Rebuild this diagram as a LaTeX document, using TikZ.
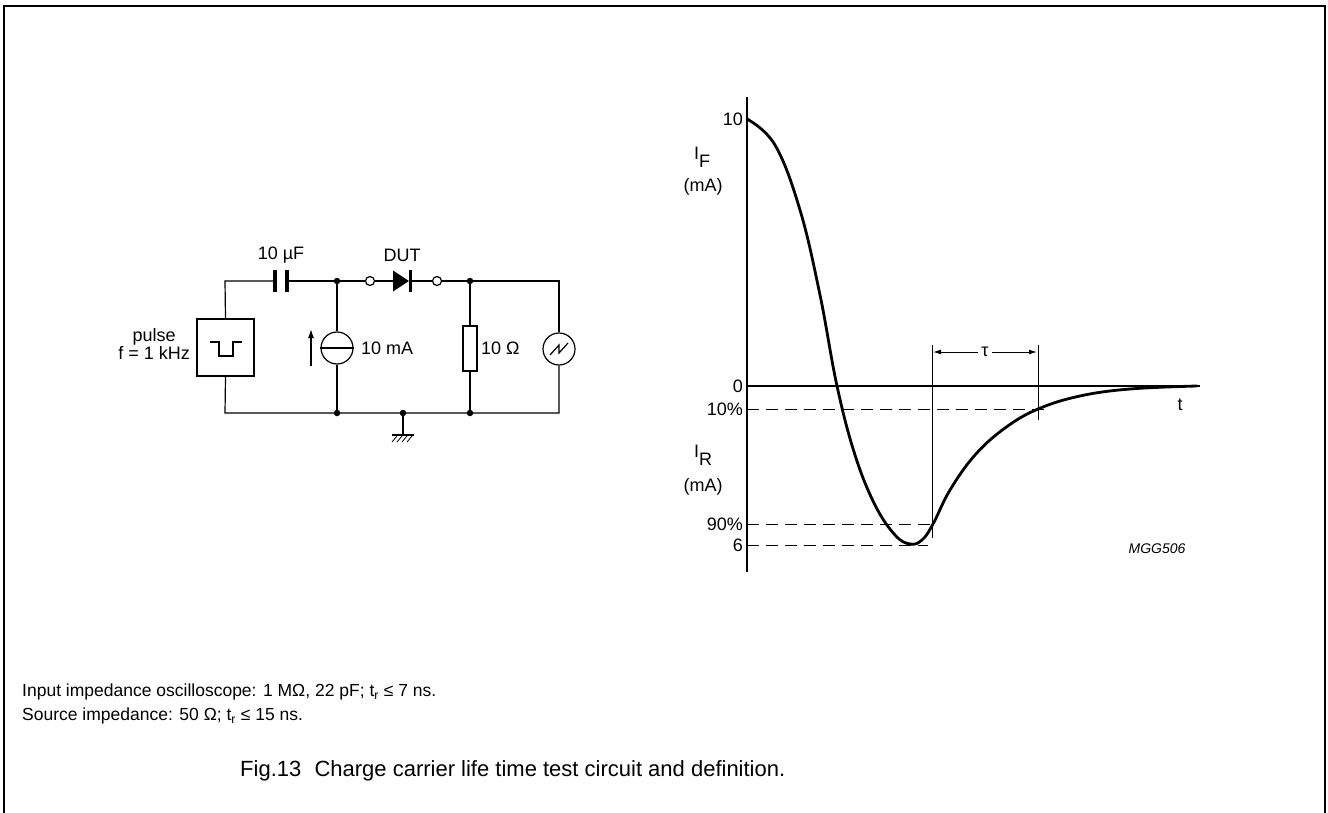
\documentclass[tikz,border=0pt]{standalone}
\usepackage{fontspec}
\setmainfont{Liberation Sans}
\usetikzlibrary{arrows.meta}

\begin{document}
\begin{tikzpicture}[x=1pt,y=-1pt,
wire/.style={line width=1.2pt},
dot/.style={circle, fill=black, inner sep=0pt, minimum size=6.5pt},
terminal/.style={circle, draw=black, fill=white, line width=1.2pt, inner sep=0pt, minimum size=9pt},
roundsym/.style={circle, draw=black, line width=1.2pt, inner sep=0pt, minimum size=32pt},
lbl/.style={font=\fontsize{18}{21}\selectfont, inner sep=0pt},
glbl/.style={font=\fontsize{18}{21}\selectfont, inner sep=0pt},
note/.style={font=\fontsize{17.5}{20}\selectfont, inner sep=0pt, anchor=west},
dashline/.style={line width=1pt, dash pattern=on 12pt off 7pt},
]
\useasboundingbox (0,0) rectangle (1328,813);
% frame
\draw[line width=2pt] (4,813) -- (4,6) -- (1325,6) -- (1325,813);

% test circuit
\coordinate (tl) at (225,281);
\coordinate (bl) at (225,413);
\coordinate (tr) at (559,281);
\coordinate (br) at (559,413);
\coordinate (capA) at (275,281);
\coordinate (capB) at (287,281);
\coordinate (anode) at (393,281);
\coordinate (cathode) at (411,281);
\coordinate (gndbar) at (403,435);
\node[rectangle, draw, line width=2.2pt, minimum width=57pt, minimum height=57pt] (pulse) at (225.5,347.5) {};
\node[dot] (ntop1) at (337,281) {};
\node[dot] (ntop2) at (470,281) {};
\node[dot] (nbot1) at (337,413) {};
\node[dot] (ngnd) at (403,413) {};
\node[dot] (nbot2) at (470,413) {};
\node[terminal] (term1) at (370,281) {};
\node[terminal] (term2) at (437,281) {};
\node[roundsym] (isrc) at (337,348) {};
\node[roundsym] (scope) at (559,349) {};
\node[rectangle, draw, line width=1.2pt, minimum width=14pt, minimum height=45pt, inner sep=0pt] (rload) at (470,348.5) {};

\draw[wire] (pulse.north) -- (tl) -- (capA);
\draw[wire] (capB) -- (term1.west);
\draw[wire] (term1.east) -- (anode);
\draw[wire] (cathode) -- (term2.west);
\draw[wire] (term2.east) -- (tr) -- (scope.north);
\draw[wire] (scope.south) -- (br) -- (bl) -- (pulse.south);
\draw[wire] (ntop1) -- (isrc.north);
\draw[wire] (isrc.south) -- (nbot1);
\draw[wire] (ntop2) -- (rload.north);
\draw[wire] (rload.south) -- (nbot2);
\draw[wire] (ngnd) -- (gndbar);

% symbols
\draw[line width=3.2pt] (275,270) -- (275,292) (287,270) -- (287,292);
\fill (393,270.5) -- (409,281) -- (393,291.5) -- cycle;
\draw[line width=3pt] (410,270) -- (410,292);
\draw[wire] (isrc.west) -- (isrc.east);
\draw[wire] (210,342) -- (219,342) -- (219,356) -- (233,356) -- (233,342) -- (242,342);
\draw[wire] (550,355) -- (559,345) -- (559,353) -- (568,343);
\draw[line width=2pt] (392,435) -- (414,435);
\foreach \hx in {397,402,...,412}
  \draw[line width=0.8pt] (\hx,436) -- (\hx-5,442);
\draw[line width=1.4pt, -{Latex[length=9pt,width=6pt]}] (311,366) -- (311,329);

% circuit labels
\node[lbl] (caplbl) at (281,255) {10 µF};
\node[lbl] (dutlbl) at (402,255) {DUT};
\node[lbl, anchor=west] (ilbl) at (361,348) {10 mA};
\node[lbl, anchor=west] (rlbl) at (481,348) {10 Ω};
\node[lbl, anchor=east] (pulselbl) at (190,346) {\begin{tabular}{@{}c@{}}pulse\\[-3pt] f = 1 kHz\end{tabular}};

% waveform
\draw[line width=1.2pt] (747,97) -- (747,572);
\draw[line width=1.2pt] (747,386) -- (1200,386);
\draw[dashline] (747,409) -- (1047,409);
\draw[dashline] (747,524) -- (937,524);
\draw[dashline] (747,545) -- (928,545);
\draw[line width=1pt] (932,345) -- (932,538);
\draw[line width=1pt] (1038,345) -- (1038,420);
\node[glbl] (tau) at (985,352) {τ};
\draw[line width=1pt, -{Latex[length=8pt,width=5pt]}] (tau.west) ++(-3,0) -- (933,352);
\draw[line width=1pt, -{Latex[length=8pt,width=5pt]}] (tau.east) ++(3,0) -- (1037,352);
\draw[line width=2.8pt, line join=round, line cap=round] plot[smooth, tension=0.65] coordinates {(747,119) (775,145) (800,210) (820,295) (837,386) (855,455) (875,505) (895,535) (910,544) (922,540) (933,524) (950,490) (975,455) (1005,428) (1038,409) (1080,396) (1130,389) (1197,386)};

% axis labels
\node[glbl, anchor=east] (ten) at (743,119) {10};
\node[glbl, anchor=east] (zero) at (743,386) {0};
\node[glbl, anchor=east] (pct10) at (743,409) {10\%};
\node[glbl, anchor=east] (pct90) at (743,524) {90\%};
\node[glbl, anchor=east] (six) at (743,545) {6};
\node[glbl, anchor=west] (iflbl) at (694,157) {I\raisebox{-8pt}{F}};
\node[glbl] (ifunit) at (703,187) {(mA)};
\node[glbl, anchor=west] (irlbl) at (694,455) {I\raisebox{-8pt}{R}};
\node[glbl] (irunit) at (703,487) {(mA)};
\node[glbl] (tlbl) at (1180,405) {t};
\node[font=\itshape\fontsize{14}{16}\selectfont, inner sep=0pt] (code) at (1157,549) {MGG506};

% notes and caption
\node[note] (note1) at (22,692) {Input impedance oscilloscope: 1 MΩ, 22 pF; t\textsubscript{r} ≤ 7 ns.};
\node[note] (note2) at (22,716) {Source impedance: 50 Ω; t\textsubscript{r} ≤ 15 ns.};
\node[font=\fontsize{22}{26}\selectfont, inner sep=0pt, anchor=west] (caption) at (240,771) {Fig.13\hspace{0.6em}Charge carrier life time test circuit and definition.};
\end{tikzpicture}
\end{document}
